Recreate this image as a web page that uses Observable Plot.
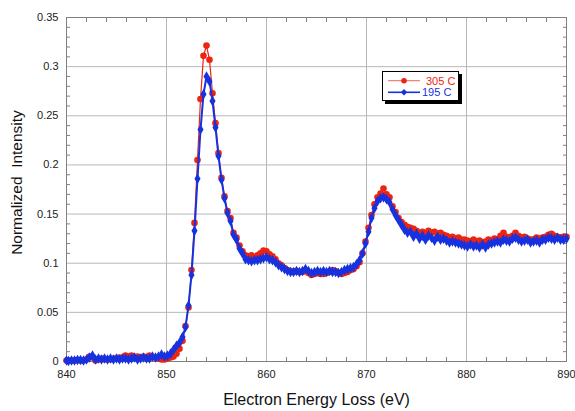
<!DOCTYPE html>
<html>
<head>
<meta charset="utf-8">
<script src="https://cdn.jsdelivr.net/npm/d3@7"></script>
<script src="https://cdn.jsdelivr.net/npm/@observablehq/plot@0.6"></script>
<style>
  html, body { margin: 0; padding: 0; background: #fff; }
  #wrap { position: relative; width: 575px; height: 411px; font-family: "Liberation Sans", Arial, Helvetica, sans-serif; }
  #legend { position: absolute; left: 0; top: 0; pointer-events: none; }
</style>
</head>
<body>
<div id="wrap"></div>
<script>
// Energy loss axis (eV)
const energy = [
  840.0, 840.2, 840.5, 840.8, 841.1, 841.4, 841.7, 842.0, 842.3, 842.6,
  842.9, 843.2, 843.5, 843.8, 844.1, 844.4, 844.7, 845.0, 845.3, 845.6,
  845.9, 846.2, 846.5, 846.8, 847.1, 847.4, 847.7, 848.0, 848.3, 848.6,
  848.9, 849.2, 849.5, 849.8, 850.1, 850.4, 850.7, 851.0, 851.3, 851.6,
  851.9, 852.2, 852.5, 852.8, 853.1, 853.4, 853.7, 854.0, 854.3, 854.6,
  854.9, 855.2, 855.5, 855.8, 856.1, 856.4, 856.7, 857.0, 857.3, 857.6,
  857.9, 858.2, 858.5, 858.8, 859.1, 859.4, 859.7, 860.0, 860.3, 860.6,
  860.9, 861.2, 861.5, 861.8, 862.1, 862.4, 862.7, 863.0, 863.3, 863.6,
  863.9, 864.2, 864.5, 864.8, 865.1, 865.4, 865.7, 866.0, 866.3, 866.6,
  866.9, 867.2, 867.5, 867.8, 868.1, 868.4, 868.7, 869.0, 869.3, 869.6,
  869.9, 870.2, 870.5, 870.8, 871.1, 871.4, 871.7, 872.0, 872.3, 872.6,
  872.9, 873.2, 873.5, 873.8, 874.1, 874.4, 874.7, 875.0, 875.3, 875.6,
  875.9, 876.2, 876.5, 876.8, 877.1, 877.4, 877.7, 878.0, 878.3, 878.6,
  878.9, 879.2, 879.5, 879.8, 880.1, 880.4, 880.7, 881.0, 881.3, 881.6,
  881.9, 882.2, 882.5, 882.8, 883.1, 883.4, 883.7, 884.0, 884.3, 884.6,
  884.9, 885.2, 885.5, 885.8, 886.1, 886.4, 886.7, 887.0, 887.3, 887.6,
  887.9, 888.2, 888.5, 888.8, 889.1, 889.4, 889.7, 890.0
];
// 305 C series
const red305 = [
  0.001, 0.001, 0.001, 0.001, 0.0015, 0.001, 0.001, 0.002, 0.005, 0.004,
  0.001, 0.002, 0.003, 0.002, 0.0025, 0.002, 0.003, 0.003, 0.004, 0.004,
  0.006, 0.005, 0.006, 0.004, 0.005, 0.004, 0.005, 0.004, 0.006, 0.004,
  0.004, 0.003, 0.002, 0.002, 0.003, 0.004, 0.005, 0.008, 0.013, 0.021,
  0.036, 0.055, 0.093, 0.141, 0.205, 0.267, 0.311, 0.3215, 0.307, 0.273,
  0.2425, 0.212, 0.187, 0.168, 0.153, 0.146, 0.131, 0.126, 0.118, 0.112,
  0.108, 0.107, 0.108, 0.106, 0.108, 0.110, 0.113, 0.112, 0.109, 0.107,
  0.104, 0.100, 0.098, 0.095, 0.093, 0.092, 0.091, 0.092, 0.091, 0.091,
  0.093, 0.090, 0.088, 0.089, 0.090, 0.089, 0.089, 0.090, 0.091, 0.093,
  0.092, 0.090, 0.089, 0.090, 0.091, 0.093, 0.094, 0.097, 0.101, 0.110,
  0.122, 0.136, 0.149, 0.160, 0.167, 0.171, 0.176, 0.170, 0.167, 0.158,
  0.152, 0.146, 0.142, 0.139, 0.137, 0.136, 0.135, 0.133, 0.131, 0.132,
  0.130, 0.133, 0.131, 0.132, 0.130, 0.131, 0.129, 0.128, 0.126, 0.127,
  0.125, 0.126, 0.124, 0.124, 0.123, 0.122, 0.124, 0.122, 0.123, 0.121,
  0.122, 0.124, 0.123, 0.125, 0.124, 0.128, 0.131, 0.127, 0.126, 0.128,
  0.131, 0.128, 0.126, 0.127, 0.125, 0.124, 0.124, 0.126, 0.125, 0.126,
  0.127, 0.129, 0.130, 0.128, 0.127, 0.126, 0.127, 0.127
];
// 195 C series
const blue195 = [
  0.001, 0.0005, 0.001, 0.001, 0.0015, 0.0015, 0.001, 0.002, 0.004, 0.006,
  0.002, 0.003, 0.002, 0.003, 0.002, 0.003, 0.002, 0.003, 0.002, 0.003,
  0.003, 0.002, 0.003, 0.004, 0.002, 0.003, 0.004, 0.003, 0.003, 0.005,
  0.004, 0.005, 0.007, 0.005, 0.006, 0.008, 0.012, 0.016, 0.019, 0.025,
  0.035, 0.057, 0.088, 0.133, 0.186, 0.236, 0.272, 0.290, 0.285, 0.265,
  0.238, 0.209, 0.185, 0.166, 0.151, 0.143, 0.129, 0.124, 0.115, 0.110,
  0.104, 0.103, 0.102, 0.103, 0.103, 0.104, 0.105, 0.106, 0.104, 0.103,
  0.101, 0.098, 0.096, 0.094, 0.092, 0.091, 0.091, 0.092, 0.091, 0.092,
  0.094, 0.092, 0.090, 0.091, 0.092, 0.091, 0.092, 0.091, 0.092, 0.091,
  0.091, 0.090, 0.091, 0.093, 0.094, 0.095, 0.096, 0.099, 0.103, 0.110,
  0.120, 0.132, 0.146, 0.156, 0.163, 0.166, 0.167, 0.165, 0.162, 0.155,
  0.149, 0.144, 0.139, 0.134, 0.131, 0.132, 0.127, 0.130, 0.125, 0.128,
  0.124, 0.128, 0.126, 0.123, 0.127, 0.124, 0.125, 0.123, 0.121, 0.122,
  0.121, 0.120, 0.119, 0.118, 0.117, 0.119, 0.117, 0.118, 0.116, 0.119,
  0.116, 0.119, 0.120, 0.121, 0.122, 0.121, 0.124, 0.123, 0.122, 0.125,
  0.126, 0.124, 0.122, 0.123, 0.124, 0.121, 0.122, 0.123, 0.121, 0.124,
  0.124, 0.126, 0.125, 0.124, 0.126, 0.124, 0.124, 0.125
];
const xMajorTicks = [840, 850, 860, 870, 880, 890];
const xMinorTicks = [842, 844, 846, 848, 852, 854, 856, 858, 862, 864, 866, 868, 872, 874, 876, 878, 882, 884, 886, 888];
const yMajorTicks = [0, 0.05, 0.1, 0.15, 0.2, 0.25, 0.3, 0.35];
const yMinorTicks = [0.01, 0.02, 0.03, 0.04, 0.06, 0.07, 0.08, 0.09, 0.11, 0.12, 0.13, 0.14, 0.16, 0.17, 0.18, 0.19,
  0.21, 0.22, 0.23, 0.24, 0.26, 0.27, 0.28, 0.29, 0.31, 0.32, 0.33, 0.34];
const seriesNames = ["305 C", "195 C"];
const xTitle = "Electron Energy Loss (eV)";
const yTitle = "Normalized\u00a0 Intensity";

const RED = "#ec2410";
const BLUE = "#1632e0";
const rows = energy.map((e, i) => ({e, r: red305[i], b: blue195[i]}));

const gridColor = "#b8b8b8";
const frameColor = "#808080";
const blank = () => "";

const chart = Plot.plot({
  width: 575,
  height: 411,
  marginLeft: 66,
  marginRight: 9,
  marginTop: 17,
  marginBottom: 50,
  style: {fontFamily: "'Liberation Sans', Arial, Helvetica, sans-serif", fontSize: "11px", background: "white", color: "#222"},
  x: {domain: [840, 890], label: null},
  y: {domain: [0, 0.35], label: null},
  marks: [
    Plot.gridX(xMajorTicks.slice(1, -1), {stroke: gridColor, strokeOpacity: 1}),
    Plot.gridY(yMajorTicks.slice(1, -1), {stroke: gridColor, strokeOpacity: 1}),
    // minor inward ticks
    Plot.axisX({anchor: "bottom", ticks: xMinorTicks, tickSize: -4, tickFormat: blank, stroke: frameColor, label: null}),
    Plot.axisX({anchor: "top", ticks: xMinorTicks, tickSize: -4, tickFormat: blank, stroke: frameColor, label: null}),
    Plot.axisY({anchor: "left", ticks: yMinorTicks, tickSize: -4, tickFormat: blank, stroke: frameColor, label: null}),
    Plot.axisY({anchor: "right", ticks: yMinorTicks, tickSize: -4, tickFormat: blank, stroke: frameColor, label: null}),
    // major labels
    Plot.axisX({anchor: "bottom", ticks: xMajorTicks, tickSize: 0, tickPadding: 9, tickFormat: d => String(d), label: null, fill: "#222"}),
    Plot.axisY({anchor: "left", ticks: yMajorTicks, tickSize: 0, tickPadding: 8, tickFormat: d => String(d), label: null, fill: "#222"}),
    Plot.frame({stroke: frameColor}),
    // series
    Plot.line(rows, {x: "e", y: "r", stroke: RED, strokeWidth: 1.2}),
    Plot.dot(rows, {x: "e", y: "r", fill: RED, r: 3.3, stroke: null}),
    Plot.line(rows, {x: "e", y: "b", stroke: BLUE, strokeWidth: 2}),
    Plot.dot(rows, {x: "e", y: "b", fill: BLUE, symbol: "diamond", r: 3.2, stroke: null}),
    // axis titles
    Plot.text([xTitle], {text: d => d, frameAnchor: "bottom", dy: 43, fontSize: 16, fill: "#111"}),
    Plot.text([yTitle], {text: d => d, frameAnchor: "left", textAnchor: "middle", dx: -49, dy: -7, rotate: -90, fontSize: 15.5, fill: "#111"})
  ]
});

const wrap = document.getElementById("wrap");
wrap.appendChild(chart);

// Legend overlay
const ns = "http://www.w3.org/2000/svg";
const leg = document.createElementNS(ns, "svg");
leg.setAttribute("id", "legend");
leg.setAttribute("width", 575);
leg.setAttribute("height", 411);
leg.innerHTML = `
  <rect x="385" y="74" width="77" height="30" fill="#000"/>
  <rect x="382.5" y="71.5" width="76" height="29" fill="#fff" stroke="#000" stroke-width="1"/>
  <line x1="388" x2="420" y1="80.7" y2="80.7" stroke="${RED}" stroke-width="1" stroke-opacity="0.7"/>
  <circle cx="404" cy="80.7" r="2.8" fill="${RED}"/>
  <line x1="388" x2="420" y1="92.3" y2="92.3" stroke="${BLUE}" stroke-width="1.6"/>
  <path d="M404,89.1 L407.2,92.3 L404,95.5 L400.8,92.3 Z" fill="${BLUE}"/>
  <text x="426" y="84.5" fill="${RED}" font-size="11" font-family="'Liberation Sans', Arial, sans-serif">${seriesNames[0]}</text>
  <text x="422" y="96.2" fill="${BLUE}" font-size="11" font-family="'Liberation Sans', Arial, sans-serif">${seriesNames[1]}</text>
`;
wrap.appendChild(leg);
</script>
</body>
</html>
